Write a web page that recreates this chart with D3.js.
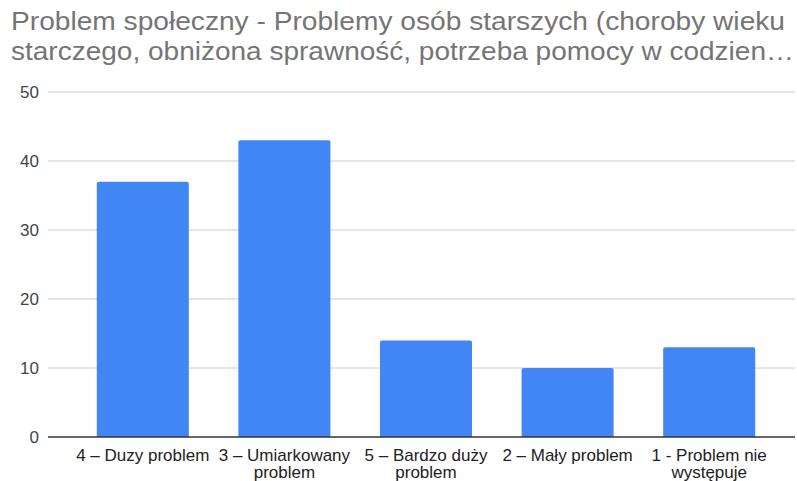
<!DOCTYPE html>
<html>
<head>
<meta charset="utf-8">
<script src="https://cdn.jsdelivr.net/npm/d3@7"></script>
<style>
  body { margin: 0; background: #fff; }
  text { font-family: Arial, "Liberation Sans", sans-serif; }
</style>
</head>
<body>
<div id="chart"></div>
<script>
// Chart data
var categories = ["4 – Duzy problem", "3 – Umiarkowany problem", "5 – Bardzo duży problem", "2 – Mały problem", "1 - Problem nie występuje"];
var labelLines = [["4 – Duzy problem"], ["3 – Umiarkowany", "problem"], ["5 – Bardzo duży", "problem"], ["2 – Mały problem"], ["1 - Problem nie", "występuje"]];
var values = [37, 43, 14, 10, 13];
var yTicks = [0, 10, 20, 30, 40, 50];
var titleLines = ["Problem społeczny - Problemy osób starszych (choroby wieku", "starczego, obniżona sprawność, potrzeba pomocy w codzien…"];

var width = 797, height = 481;
var margin = { top: 92, right: 2, bottom: 44, left: 48 };

var svg = d3.select("#chart")
    .append("svg")
    .attr("width", width)
    .attr("height", height);

// Title (stretched a little to match the original's wide glyphs)
svg.selectAll(".title")
    .data(titleLines)
    .enter()
    .append("text")
    .attr("class", "title")
    .attr("x", 11)
    .attr("y", function (d, i) { return 30 + i * 30; })
    .attr("textLength", function (d, i) { return i === 0 ? 774 : 783; })
    .attr("lengthAdjust", "spacingAndGlyphs")
    .style("font-size", "25px")
    .style("fill", "#757575")
    .text(function (d) { return d; });

// Scales
var xScale = d3.scaleBand()
    .domain(categories)
    .range([72, 780])
    .paddingInner(0.35)
    .paddingOuter(0.175);

var yScale = d3.scaleLinear()
    .domain([0, 50])
    .range([height - margin.bottom, margin.top]);

// Gridlines
svg.append("g")
    .selectAll("line")
    .data(yTicks.slice(1))
    .enter()
    .append("line")
    .attr("x1", margin.left)
    .attr("x2", width - margin.right)
    .attr("y1", function (d) { return yScale(d); })
    .attr("y2", function (d) { return yScale(d); })
    .style("stroke", "#cccccc")
    .style("stroke-width", 1);

// Y axis labels
var yAxis = svg.append("g")
    .attr("transform", "translate(" + (margin.left - 9) + ",0)")
    .call(d3.axisLeft(yScale).tickValues(yTicks).tickSize(0).tickPadding(0));
yAxis.select(".domain").remove();
yAxis.selectAll("text")
    .style("font-family", "Arial, 'Liberation Sans', sans-serif")
    .style("font-size", "17px")
    .style("fill", "#444444");

// Bars with slightly rounded tops
svg.append("g")
    .selectAll("path")
    .data(values)
    .enter()
    .append("path")
    .attr("d", function (d, i) {
        var x0 = xScale(categories[i]), w = xScale.bandwidth();
        var y0 = yScale(d), yb = yScale(0), r = 2;
        return "M" + x0 + "," + yb + "V" + (y0 + r) + "Q" + x0 + "," + y0 + " " + (x0 + r) + "," + y0 +
            "H" + (x0 + w - r) + "Q" + (x0 + w) + "," + y0 + " " + (x0 + w) + "," + (y0 + r) + "V" + yb + "Z";
    })
    .style("fill", "#4285f4");

// Baseline
svg.append("line")
    .attr("x1", margin.left)
    .attr("x2", width - margin.right)
    .attr("y1", yScale(0))
    .attr("y2", yScale(0))
    .style("stroke", "#333333")
    .style("stroke-width", 1.5);

// X category labels
var xLabels = svg.append("g")
    .selectAll("text")
    .data(categories)
    .enter()
    .append("text")
    .attr("x", function (d) { return xScale(d) + xScale.bandwidth() / 2; })
    .attr("y", yScale(0) + 24)
    .attr("text-anchor", "middle")
    .style("font-size", "17px")
    .style("fill", "#222222");

xLabels.selectAll("tspan")
    .data(function (d, i) { return labelLines[i]; })
    .enter()
    .append("tspan")
    .attr("x", function () { return d3.select(this.parentNode).attr("x"); })
    .attr("dy", function (d, i) { return i === 0 ? 0 : 17; })
    .text(function (d) { return d; });
</script>
</body>
</html>
